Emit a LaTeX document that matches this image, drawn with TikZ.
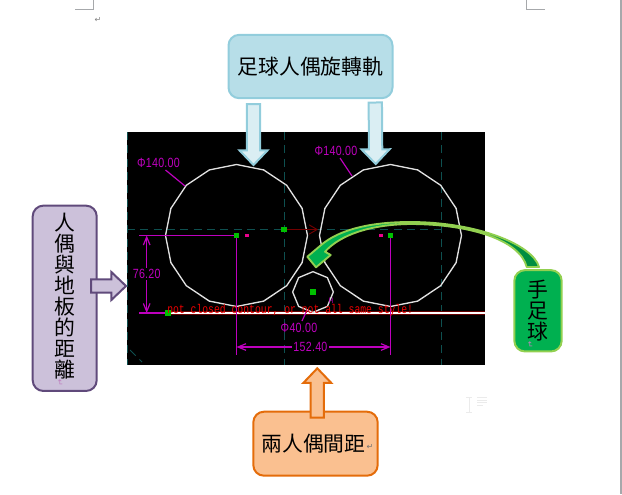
\documentclass[tikz,border=0pt]{standalone}
\usepackage{fontspec}
\newfontfamily\cjk{Noto Sans CJK TC}
\newfontfamily\dimfont[FakeStretch=0.8,LetterSpace=2]{Liberation Sans}
\newfontfamily\msgfont[FakeStretch=0.77]{Liberation Mono}
\newfontfamily\markfont{DejaVu Sans}
\usetikzlibrary{arrows.meta,calc,shapes.geometric}
\definecolor{cadmagenta}{HTML}{BE00BE}
\definecolor{cadteal}{HTML}{0E5050}
\definecolor{cadgreen}{HTML}{00C000}
\definecolor{cadred}{HTML}{EC0000}
\definecolor{chrome}{HTML}{A6A8AB}
\definecolor{skyfill}{HTML}{B7DEE8}
\definecolor{skypale}{HTML}{DAEEF3}
\definecolor{skyline}{HTML}{92CDDC}
\definecolor{lilacfill}{HTML}{CCC1DA}
\definecolor{lilacline}{HTML}{604A7B}
\definecolor{peachfill}{HTML}{FAC090}
\definecolor{peachline}{HTML}{E46C0A}
\definecolor{leaffill}{HTML}{00B050}
\definecolor{leafdark}{HTML}{008E40}
\definecolor{leafline}{HTML}{92D050}
\tikzset{
  labelbox/.style={draw, rounded corners=8pt, line width=1.5pt, inner sep=0pt, align=center,
    font=\cjk\fontsize{15.6}{15.75}\selectfont},
  wheel/.style={regular polygon, draw=white!88!black, line width=1pt, inner sep=0pt},
  pivot/.style={fill=cadgreen, inner sep=0pt, minimum size=4.4pt},
  grip/.style={fill=magenta, inner sep=0pt, minimum width=3pt, minimum height=2.4pt},
  centerline/.style={cadteal, line width=0.6pt, dash pattern=on 6pt off 4pt},
  dimline/.style={cadmagenta, line width=0.9pt},
  dimarrow/.style={dimline, {Straight Barb[length=6pt,width=5pt]}-{Straight Barb[length=6pt,width=5pt]}},
  dimtext/.style={text=cadmagenta, inner sep=1pt, font=\dimfont\fontsize{10}{10}\selectfont},
  retmark/.style={text=#1, inner sep=0pt, font=\markfont\fontsize{6}{6}\selectfont}
}
% one block arrow: style, tail, tip
\newcommand{\blockarrow}[3]{%
  \coordinate (neck) at ($(#3)!11pt!(#2)$);
  \draw[line width=1.5pt, line join=miter, #1]
    ($(#2)!5pt!90:(#3)$) -- ($(neck)!5pt!90:(#3)$) -- ($(neck)!10.5pt!90:(#3)$) -- (#3)
    -- ($(neck)!10.5pt!-90:(#3)$) -- ($(neck)!5pt!-90:(#3)$) -- ($(#2)!5pt!-90:(#3)$) -- cycle;
}
\newcommand{\kickpath}{(539,267) .. controls (533,245) and (478,222) .. (410,222)
    .. controls (375,222) and (340,228) .. (320,246) -- (307.3,256.7) -- (316,267.3)
    -- (330.7,255) -- (325,251.7) .. controls (340,235) and (370,224.5) .. (410,224)
    .. controls (470,224) and (520,240) .. (526.7,267) -- cycle}
\begin{document}
\begin{tikzpicture}[x=0.75pt, y=-0.75pt]
    \useasboundingbox (0,0) rectangle (622,494);
    % Page marks
    \draw[chrome, line width=0.75pt] (75,9.5) -- (93.5,9.5) -- (93.5,0);
    \draw[chrome, line width=0.75pt] (526,0) -- (526,9.5) -- (545,9.5);
    \fill[chrome] (620,0) rectangle (622,494);
    \node[retmark=gray] (retpage) at (98,20) {↵};
    \draw[black!8, line width=0.6pt] (466,397) -- (472,397) (469,397) -- (469,412) (466,412) -- (472,412);
    \draw[black!8, line width=0.6pt] (477,397) -- (487,397) (477,400) -- (487,400) (477,402.5) -- (487,402.5) (477,405) -- (483,405);

    % Drawing area
    \fill[black] (127,132) rectangle (485,365);
    \draw[centerline] (127.5,132) -- (127.5,365);
    \draw[centerline] (284,132) -- (284,365);
    \draw[centerline] (441.5,132) -- (441.5,365);
    \draw[centerline] (127,229.5) -- (441.5,229.5);
    \draw[centerline] (130,350) -- (142,362);
    % Floor line
    \coordinate (floorL) at (168,313);
    \coordinate (floorR) at (485,313);
    \draw[red!40!black, line width=3pt] (floorL) -- (floorR);
    \draw[white, line width=1.2pt] (floorL) -- (floorR);

    % Wheels and ball
    \node[wheel, regular polygon sides=16, shape border rotate=11.25, minimum size=106.5pt] (wheelL) at (236.5,235.5) {};
    \node[wheel, regular polygon sides=16, shape border rotate=11.25, minimum size=106.5pt] (wheelR) at (390.5,235.5) {};
    \node[wheel, regular polygon sides=8, shape border rotate=22.5, minimum size=30.5pt] (ball) at (313,292) {};

    % Dimensions
    \coordinate (hubL) at (236.5,235.5);
    \coordinate (hubR) at (390.5,235.5);
    \coordinate (dimTop) at (139,235.5);
    \coordinate (dimBot) at (139,313);
    \draw[dimline] (dimTop) -- (hubL);
    \draw[dimline] (dimBot) -- (floorL);
    \draw[dimline] (hubL) -- (236.5,355);
    \draw[dimline] (hubR) -- (390.5,355);
    \draw[dimarrow] (146.7,235.5) -- node[fill=black, dimtext] (heightdim) {76.20} (146.7,313);
    \draw[dimarrow] (236.5,347) -- node[fill=black, dimtext, pos=0.48] (gapdim) {152.40} (390.5,347);
    \node[dimtext] (diamL) at (158.5,163) {Φ140.00};
    \node[dimtext] (diamR) at (336,151) {Φ140.00};
    \node[dimtext] (diamB) at (299,327.5) {Φ40.00};
    \node[text=cadmagenta, inner sep=0pt, font=\dimfont\fontsize{6}{6}\selectfont] (ballmark) at (331,300.5) {H};
    \draw[dimline] (165.5,170) -- (185,186);
    \draw[dimline] (340,158) -- (352,176);
    \draw[dimline] (302,321) -- (307,310);

    % Markers
    \draw[red!45!black, line width=0.7pt, -{Straight Barb[length=6pt,width=7pt]}] (284,229.5) -- (318,229.5);
    \node[pivot] (pivotL) at (hubL) {};
    \node[pivot] (pivotR) at (hubR) {};
    \node[pivot] (pivotB) at (ball) {};
    \node[pivot] (pivotC) at (284,229.5) {};
    \node[pivot] (pivotF) at (floorL) {};
    \node[grip] (gripL) at (246.5,235.5) {};
    \node[grip] (gripR) at (381,235.5) {};

    % Error text
    \node[text=cadred, inner sep=0pt, anchor=base west, font=\msgfont\fontsize{9.5}{10}\selectfont] (errmsg) at (167,313) {not closed contour, or not all same style!};

    % Label boxes
    \node[labelbox, draw=skyline, fill=skyfill, minimum width=123pt, minimum height=47.5pt] (trackbox) at (310.5,66.5) {足球人偶旋轉軌};
    \node[labelbox, draw=lilacline, fill=lilacfill, minimum width=48pt, minimum height=139pt] (heightbox) at (64.7,298.3) {人\\偶\\與\\地\\板\\的\\距\\離\\[-11pt]\mbox{}};
    \node[labelbox, draw=peachline, fill=peachfill, minimum width=93.3pt, minimum height=48pt] (gapbox) at (315.5,443.7) {兩人偶間距\hspace*{3pt}};
    \node[labelbox, draw=leafline, fill=leaffill, minimum width=35.5pt, minimum height=61pt] (ballbox) at (538,310.8) {手\\足\\球};
    \node[retmark=violet!50] (retheight) at (60,383) [rotate=-90] {↵};
    \node[retmark=violet!50] (retball) at (530,345) [rotate=-90] {↵};
    \node[retmark=black!55] (retgap) at (370,446.5) {↵};

    % Block arrows
    \coordinate (tipA) at (253.5,165);
    \coordinate (tipB) at (375.7,164);
    \coordinate (tipC) at (126,286);
    \coordinate (tipD) at (317.3,368.3);
    \coordinate (tailA) at (253.5,104);
    \coordinate (tailB) at (375.3,102.5);
    \coordinate (tailC) at (91,286);
    \coordinate (tailD) at (317.3,417.5);
    \blockarrow{draw=skyline, fill=skypale}{tailA}{tipA}
    \blockarrow{draw=skyline, fill=skypale}{tailB}{tipB}
    \blockarrow{draw=lilacline, fill=lilacfill}{tailC}{tipC}
    \blockarrow{draw=peachline, fill=peachfill}{tailD}{tipD}

    % Curved arrow to the ball
    \fill[leaffill] \kickpath;
    \begin{scope}
      \clip (460,200) rectangle (560,280);
      \fill[leafdark] \kickpath;
    \end{scope}
    \draw[leafline, line width=1.4pt, line join=round] \kickpath;
  \end{tikzpicture}
\end{document}
